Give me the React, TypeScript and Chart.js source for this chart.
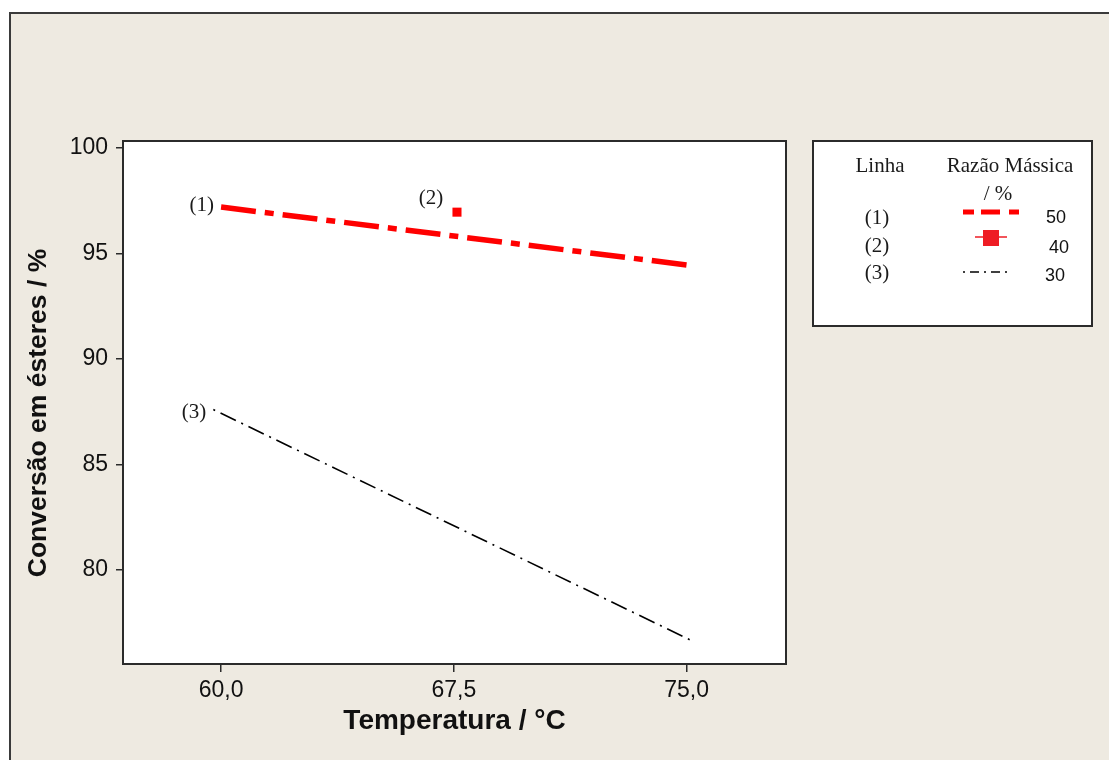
import React, { useEffect, useRef } from "react";
import { Chart, registerables } from "chart.js";

Chart.register(...registerables);

// ---- data ----
const xTickValues = [60, 67.5, 75];
const yTickValues = [80, 85, 90, 95, 100];
const line1X = [60, 75];
const line1Y = [97.19, 94.45];
const point2X = [67.6];
const point2Y = [96.95];
const line3X = [59.75, 75.1];
const line3Y = [87.6, 76.7];
const seriesLabels = ["(1)", "(2)", "(3)"];
const legendValues = ["50", "40", "30"];
const xTitle = "Temperatura / °C";
const yTitle = "Conversão em ésteres / %";
const legendHead1 = "Linha";
const legendHead2 = "Razão Mássica";
const legendHead3 = "/ %";

const W = 1109;
const H = 760;
const SANS = "'Liberation Sans', Arial, sans-serif";
const SERIF = "'Liberation Serif', 'Times New Roman', serif";
const CREAM = "#EEEAE1";
const DARK = "#2b2b2b";

const labelOffsets = [
  { dx: -7, dy: -2, align: "right" as CanvasTextAlign },
  { dx: -26, dy: -14, align: "center" as CanvasTextAlign },
  { dx: -7, dy: 3, align: "right" as CanvasTextAlign },
];

const decorPlugin = {
  id: "decor",
  beforeDraw(chart: any) {
    const ctx = chart.ctx as CanvasRenderingContext2D;
    const a = chart.chartArea;
    ctx.save();
    ctx.fillStyle = "#ffffff";
    ctx.fillRect(0, 0, W, H);
    ctx.fillStyle = CREAM;
    ctx.fillRect(10, 13, W, H);
    ctx.strokeStyle = "#3a3a3a";
    ctx.lineWidth = 2;
    ctx.strokeRect(10, 13, W + 20, H + 20);
    ctx.fillStyle = "#ffffff";
    ctx.fillRect(a.left, a.top, a.right - a.left, a.bottom - a.top);
    ctx.restore();
  },
  afterDraw(chart: any) {
    const ctx = chart.ctx as CanvasRenderingContext2D;
    const a = chart.chartArea;
    const xs = chart.scales.x;
    const ys = chart.scales.y;
    ctx.save();
    // plot frame
    ctx.strokeStyle = DARK;
    ctx.lineWidth = 2;
    ctx.strokeRect(a.left, a.top, a.right - a.left, a.bottom - a.top);

    // y axis title
    ctx.save();
    ctx.translate(39, 413);
    ctx.rotate(-Math.PI / 2);
    ctx.fillStyle = "#111";
    ctx.font = `bold 26.5px ${SANS}`;
    ctx.textAlign = "center";
    ctx.textBaseline = "middle";
    ctx.fillText(yTitle, 0, 0);
    ctx.restore();

    // series annotations
    ctx.fillStyle = "#1a1a1a";
    ctx.font = `21px ${SERIF}`;
    ctx.textBaseline = "middle";
    const starts = [
      [line1X[0], line1Y[0]],
      [point2X[0], point2Y[0]],
      [line3X[0], line3Y[0]],
    ];
    starts.forEach((p, i) => {
      const o = labelOffsets[i];
      ctx.textAlign = o.align;
      ctx.fillText(seriesLabels[i], xs.getPixelForValue(p[0]) + o.dx, ys.getPixelForValue(p[1]) + o.dy);
    });

    // legend box
    const L = 813, T = 141, R = 1092, B = 326;
    ctx.fillStyle = "#ffffff";
    ctx.fillRect(L, T, R - L, B - T);
    ctx.strokeStyle = DARK;
    ctx.lineWidth = 2;
    ctx.strokeRect(L, T, R - L, B - T);

    ctx.fillStyle = "#1a1a1a";
    ctx.font = `21px ${SERIF}`;
    ctx.textAlign = "center";
    ctx.textBaseline = "middle";
    ctx.fillText(legendHead1, 880, 166);
    ctx.fillText(legendHead2, 1010, 166);
    ctx.fillText(legendHead3, 998, 194);
    const rowY = [218, 246, 273];
    seriesLabels.forEach((s, i) => ctx.fillText(s, 877, rowY[i]));

    ctx.fillStyle = "#111";
    ctx.font = `18px ${SANS}`;
    const valPos = [
      [1056, 218],
      [1059, 248],
      [1055, 276],
    ];
    legendValues.forEach((v, i) => ctx.fillText(v, valPos[i][0], valPos[i][1]));

    // sample 1: red dashed
    ctx.strokeStyle = "#ff0000";
    ctx.lineWidth = 5;
    ctx.lineCap = "butt";
    ctx.setLineDash([]);
    [[963, 974], [981, 1000], [1009, 1019]].forEach(([x0, x1]) => {
      ctx.beginPath();
      ctx.moveTo(x0, 212);
      ctx.lineTo(x1, 212);
      ctx.stroke();
    });
    // sample 2: red square with line
    ctx.strokeStyle = "#ee1c24";
    ctx.lineWidth = 1.5;
    ctx.beginPath();
    ctx.moveTo(975, 237);
    ctx.lineTo(1007, 237);
    ctx.stroke();
    ctx.fillStyle = "#ee1c24";
    ctx.fillRect(983, 230, 16, 16);
    // sample 3: black dash-dot
    ctx.strokeStyle = "#000000";
    ctx.lineWidth = 1.5;
    ctx.setLineDash([2, 5, 9, 5]);
    ctx.beginPath();
    ctx.moveTo(963, 272);
    ctx.lineTo(1012, 272);
    ctx.stroke();
    ctx.setLineDash([]);
    ctx.restore();
  },
};

export default function App() {
  const ref = useRef<HTMLCanvasElement | null>(null);

  useEffect(() => {
    if (!ref.current) return;
    const chart = new Chart(ref.current, {
      type: "scatter",
      data: {
        datasets: [
          {
            label: seriesLabels[0],
            data: line1X.map((x, i) => ({ x, y: line1Y[i] })),
            showLine: true,
            borderColor: "#ff0000",
            borderWidth: 5.5,
            borderDash: [35, 9, 9, 9],
            borderCapStyle: "butt",
            pointRadius: 0,
          },
          {
            label: seriesLabels[1],
            data: point2X.map((x, i) => ({ x, y: point2Y[i] })),
            showLine: false,
            pointStyle: "rect",
            pointRadius: 6.4,
            backgroundColor: "#ff0000",
            borderColor: "#ff0000",
            borderWidth: 0,
          },
          {
            label: seriesLabels[2],
            data: line3X.map((x, i) => ({ x, y: line3Y[i] })),
            showLine: true,
            borderColor: "#000000",
            borderWidth: 1.6,
            borderDash: [2, 6, 17, 6],
            pointRadius: 0,
          },
        ],
      },
      options: {
        responsive: false,
        animation: false,
        devicePixelRatio: 1,
        layout: { padding: { left: 0, top: 141, right: W - 786, bottom: 0 } },
        plugins: { legend: { display: false }, tooltip: { enabled: false } },
        scales: {
          x: {
            type: "linear",
            min: 56.84,
            max: 78.2,
            afterBuildTicks: (s: any) => {
              s.ticks = xTickValues.map((v) => ({ value: v }));
            },
            afterFit: (s: any) => {
              s.height = 96;
            },
            ticks: {
              callback: (v: any) => Number(v).toFixed(1).replace(".", ","),
              font: { family: SANS, size: 23 },
              color: "#111",
              padding: 5,
              maxRotation: 0,
              autoSkip: false,
            },
            grid: { drawOnChartArea: false, drawTicks: true, tickLength: 8, color: DARK, lineWidth: 1.5 },
            border: { display: true, color: DARK, width: 2 },
            title: {
              display: true,
              text: xTitle,
              font: { family: SANS, size: 28, weight: "bold" },
              color: "#111",
              padding: { top: 0, bottom: 22 },
            },
          },
          y: {
            type: "linear",
            min: 75.55,
            max: 100.32,
            afterBuildTicks: (s: any) => {
              s.ticks = yTickValues.map((v) => ({ value: v }));
            },
            afterFit: (s: any) => {
              s.width = 123;
            },
            ticks: {
              font: { family: SANS, size: 23 },
              color: "#111",
              padding: 8,
              autoSkip: false,
            },
            grid: { drawOnChartArea: false, drawTicks: true, tickLength: 7, color: DARK, lineWidth: 1.5 },
            border: { display: true, color: DARK, width: 2 },
            title: { display: false },
          },
        },
      },
      plugins: [decorPlugin],
    } as any);
    return () => chart.destroy();
  }, []);

  return (
    <div style={{ position: "absolute", left: 0, top: 0, width: W, height: H }}>
      <canvas ref={ref} width={W} height={H} style={{ display: "block", width: W, height: H }} />
    </div>
  );
}
